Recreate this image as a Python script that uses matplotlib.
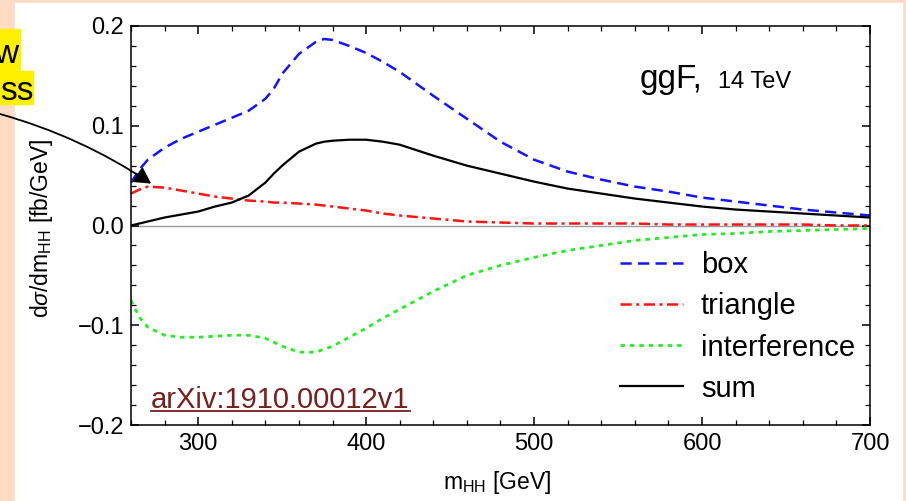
import matplotlib
matplotlib.use("Agg")
import numpy as np
import matplotlib.pyplot as plt
from matplotlib.lines import Line2D
from matplotlib.patches import Rectangle

plt.rcParams['font.family'] = ['Liberation Sans', 'DejaVu Sans']
plt.rcParams['mathtext.fontset'] = 'custom'
plt.rcParams['mathtext.rm'] = 'Liberation Sans'
plt.rcParams['mathtext.it'] = 'Liberation Sans:italic'

# m_HH [GeV] and d(sigma)/dm_HH [fb/GeV]
m_hh = [260, 265, 270, 280, 290, 300, 310, 320, 330, 340, 345, 350, 360, 370, 375,
        380, 390, 400, 410, 420, 440, 460, 480, 500, 520, 540, 560, 580, 600, 620,
        640, 660, 680, 700]
box = [0.043, 0.056, 0.066, 0.078, 0.087, 0.094, 0.101, 0.108, 0.115, 0.127, 0.137,
       0.152, 0.172, 0.184, 0.187, 0.186, 0.180, 0.173, 0.164, 0.154, 0.130, 0.107,
       0.084, 0.066, 0.054, 0.046, 0.039, 0.034, 0.028, 0.024, 0.020, 0.016, 0.013,
       0.010]
triangle = [0.032, 0.036, 0.039, 0.038, 0.035, 0.032, 0.029, 0.027, 0.025, 0.024,
            0.023, 0.023, 0.022, 0.021, 0.020, 0.019, 0.017, 0.015, 0.012, 0.010,
            0.007, 0.004, 0.003, 0.002, 0.002, 0.002, 0.002, 0.001, 0.001, 0.001,
            0.001, 0.001, 0.000, 0.000]
interference = [-0.075, -0.092, -0.102, -0.110, -0.112, -0.112, -0.111, -0.110,
                -0.110, -0.113, -0.117, -0.121, -0.127, -0.127, -0.124, -0.121,
                -0.112, -0.103, -0.093, -0.084, -0.066, -0.050, -0.040, -0.032,
                -0.025, -0.020, -0.015, -0.012, -0.009, -0.008, -0.006, -0.005,
                -0.004, -0.003]
total = [0.000, 0.002, 0.004, 0.008, 0.011, 0.014, 0.019, 0.023, 0.030, 0.043,
         0.052, 0.060, 0.074, 0.082, 0.084, 0.085, 0.086, 0.086, 0.084, 0.081,
         0.070, 0.060, 0.052, 0.044, 0.037, 0.032, 0.027, 0.023, 0.019, 0.016,
         0.014, 0.012, 0.010, 0.008]

W, H = 906, 501
fig = plt.figure(figsize=(W / 100, H / 100), dpi=100)
fig.patch.set_facecolor('#fddcc6')
fig.add_artist(Rectangle((15 / W, 0), (902 - 15) / W, 1 - 3 / H,
                         transform=fig.transFigure, color='white', zorder=0))

# yellow highlighted words cut off at the left edge
fig.add_artist(Rectangle((0, 1 - 71 / H), 20 / W, 42 / H,
                         transform=fig.transFigure, color='#fff000', zorder=1))
fig.add_artist(Rectangle((0, 1 - 104 / H), 33 / W, 33 / H,
                         transform=fig.transFigure, color='#fff000', zorder=1))
fig.text(18 / W, 1 - 63 / H, 'w', ha='right', va='baseline', fontsize=24)
fig.text(34 / W, 1 - 100 / H, 'ss', ha='right', va='baseline', fontsize=24)

ax = fig.add_axes([131 / W, 1 - 425 / H, 739 / W, 399 / H])
ax.axhline(0, color='#9a9a9a', lw=1, zorder=1)
ax.plot(m_hh, box, color='#1414ff', lw=1.8, dashes=(4.5, 2.5), label='box')
ax.plot(m_hh, triangle, color='#ff1414', lw=1.8, dashes=(4.5, 1.8, 1.2, 1.8),
        label='triangle')
ax.plot(m_hh, interference, color='#22ee22', lw=2.0, dashes=(1.6, 1.8),
        label='interference')
ax.plot(m_hh, total, color='black', lw=1.6, label='sum')

ax.set_xlim(260, 700)
ax.set_ylim(-0.2, 0.2)
ax.set_xticks([300, 400, 500, 600, 700])
ax.set_xticks(np.arange(260, 701, 20), minor=True)
ax.set_yticks([-0.2, -0.1, 0.0, 0.1, 0.2])
ax.set_yticks(np.arange(-0.2, 0.201, 0.02), minor=True)
ax.tick_params(which='both', direction='in', top=True, right=True, labelsize=17)
ax.tick_params(which='major', length=6, width=1.1)
ax.tick_params(which='minor', length=3.5, width=0.9)
ax.tick_params(axis='x', pad=6)
ax.tick_params(axis='y', pad=5)
for s in ax.spines.values():
    s.set_linewidth(1.1)

fig.text(42 / W, 1 - 228 / H, r'd$\sigma$/dm$_{\mathrm{HH}}$ [fb/GeV]',
         rotation=90, ha='center', va='center', fontsize=16.5)
fig.text(497 / W, 1 - 483 / H, r'm$_{\mathrm{HH}}$ [GeV]',
         ha='center', va='center', fontsize=16.5)

fig.text(640 / W, 1 - 88 / H, 'ggF,', ha='left', va='baseline', fontsize=24)
fig.text(718 / W, 1 - 88 / H, '14 TeV', ha='left', va='baseline', fontsize=17)

leg = ax.legend(loc='center left', bbox_to_anchor=(620 / W, 1 - 327 / H),
                bbox_transform=fig.transFigure, frameon=False, fontsize=21,
                handlelength=2.17, handletextpad=0.6, labelspacing=0.45,
                borderpad=0, borderaxespad=0)

arx = fig.text(151 / W, 1 - 408 / H, 'arXiv:1910.00012v1', ha='left',
               va='baseline', fontsize=21, color='#7a1e1e')
fig.canvas.draw()
bb = arx.get_window_extent()
fig.add_artist(Line2D([bb.x0 / W, bb.x1 / W], [1 - 411 / H, 1 - 411 / H],
                      transform=fig.transFigure, color='#7a1e1e', lw=1.3))

ax.annotate('', xy=(272, 0.042), xycoords='data',
            xytext=(0, H - 114), textcoords='figure pixels',
            arrowprops=dict(arrowstyle='-|>,head_length=1.0,head_width=0.55',
                            color='black', lw=1.3, shrinkA=0, shrinkB=0,
                            connectionstyle='arc3,rad=-0.08'),
            annotation_clip=False)

fig.savefig('out.png', dpi=100, facecolor=fig.get_facecolor())
